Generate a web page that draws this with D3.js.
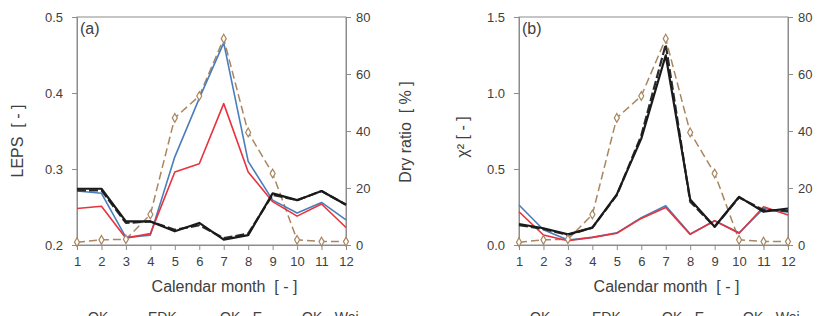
<!DOCTYPE html>
<html>
<head>
<meta charset="utf-8">
<script src="https://cdn.jsdelivr.net/npm/d3@7"></script>
<style>
  body { margin: 0; background: #fff; }
  svg text { font-family: "Liberation Sans", Arial, sans-serif; fill: #404040; white-space: pre; }
</style>
</head>
<body>
<div id="chart"></div>
<script>
const months = [1, 2, 3, 4, 5, 6, 7, 8, 9, 10, 11, 12];
const dryRatio = [1, 1.8, 2, 10.7, 44.6, 52.3, 72.4, 39.5, 25.1, 1.8, 1.2, 1.2];

// panel (a) LEPS
const lepsOK = [0.271, 0.268, 0.210, 0.213, 0.316, 0.393, 0.466, 0.310, 0.259, 0.242, 0.256, 0.233];
const lepsEDK = [0.248, 0.251, 0.209, 0.215, 0.296, 0.307, 0.386, 0.296, 0.257, 0.238, 0.254, 0.223];
const lepsOKE = [0.272, 0.272, 0.229, 0.231, 0.220, 0.226, 0.209, 0.215, 0.266, 0.259, 0.271, 0.253];
const lepsOKWei = [0.274, 0.274, 0.231, 0.231, 0.218, 0.229, 0.207, 0.213, 0.268, 0.259, 0.271, 0.253];

// panel (b) chi square
const chiOK = [0.263, 0.100, 0.033, 0.050, 0.080, 0.180, 0.258, 0.072, 0.160, 0.080, 0.240, 0.215];
const chiEDK = [0.219, 0.066, 0.028, 0.050, 0.077, 0.175, 0.247, 0.070, 0.160, 0.077, 0.252, 0.197];
const chiOKE = [0.131, 0.105, 0.066, 0.114, 0.328, 0.720, 1.320, 0.285, 0.120, 0.313, 0.230, 0.225];
const chiOKWei = [0.138, 0.110, 0.070, 0.114, 0.333, 0.700, 1.248, 0.300, 0.120, 0.317, 0.219, 0.240];

const legendNames = ["OK", "EDK", "OK - E", "OK - Wei"];

const panels = [
    { tag: "(a)", left: 77, right: 346, yMax: 0.5, yMin: 0.2, yTicks: [0.2, 0.3, 0.4, 0.5], fmt: d3.format(".1f"),
      yLabel: "LEPS  [ - ]", yLabelX: 23, yLabelY: 141, rightLabel: true, series: [lepsOK, lepsEDK, lepsOKE, lepsOKWei],
      legendX: [88, 148, 220, 302] },
    { tag: "(b)", left: 519, right: 788, yMax: 1.5, yMin: 0, yTicks: [0, 0.5, 1.0, 1.5], fmt: d3.format(".1f"),
      yLabel: "χ² [ - ]", yLabelX: 468, yLabelY: 137, rightLabel: false, series: [chiOK, chiEDK, chiOKE, chiOKWei],
      legendX: [530, 592, 662, 743] }
];

const plotTop = 17, plotBottom = 245;
const axisColor = "#8c8c8c";
const styles = [
    { color: "#4a7ebb", width: 1.6, dash: null },
    { color: "#e8323c", width: 1.6, dash: null },
    { color: "#2a2a2a", width: 2.2, dash: "9,3" },
    { color: "#1a1a1a", width: 2.2, dash: null }
];
const dryColor = "#a88660";

const svg = d3.select("#chart").append("svg")
    .attr("width", 835)
    .attr("height", 316);

panels.forEach(p => {
    const x = d3.scaleLinear().domain([1, 12]).range([p.left, p.right]);
    const y = d3.scaleLinear().domain([p.yMin, p.yMax]).range([plotBottom, plotTop]);
    const y2 = d3.scaleLinear().domain([0, 80]).range([plotBottom, plotTop]);
    const g = svg.append("g");

    // box
    g.append("rect")
        .attr("x", p.left).attr("y", plotTop)
        .attr("width", p.right - p.left).attr("height", plotBottom - plotTop)
        .attr("fill", "none").attr("stroke", axisColor).attr("stroke-width", 1);

    const leftAxis = g.append("g")
        .attr("transform", `translate(${p.left},0)`)
        .call(d3.axisLeft(y).tickValues(p.yTicks).tickFormat(p.fmt).tickSizeOuter(0).tickSize(5).tickPadding(9));
    const rightAxis = g.append("g")
        .attr("transform", `translate(${p.right},0)`)
        .call(d3.axisRight(y2).tickValues([0, 20, 40, 60, 80]).tickSizeOuter(0).tickSize(5).tickPadding(5));
    const bottomAxis = g.append("g")
        .attr("transform", `translate(0,${plotBottom})`)
        .call(d3.axisBottom(x).tickValues(months).tickFormat(d3.format("d")).tickSizeOuter(0).tickSize(5).tickPadding(7));

    [leftAxis, rightAxis, bottomAxis].forEach(a => {
        a.select(".domain").attr("stroke", axisColor);
        a.selectAll(".tick line").attr("stroke", axisColor);
        a.selectAll(".tick text").attr("font-size", 13).attr("fill", "#404040")
            .attr("font-family", "Liberation Sans, Arial, sans-serif");
    });

    g.append("text")
        .attr("x", p.left + 3).attr("y", 34)
        .attr("font-size", 16)
        .attr("fill", "#1a1a1a")
        .text(p.tag);

    g.append("text")
        .attr("x", (p.left + p.right) / 2 + 13).attr("y", 292)
        .attr("text-anchor", "middle").attr("font-size", 16)
        .text("Calendar month  [ - ]");

    g.append("text")
        .attr("transform", `translate(${p.yLabelX},${p.yLabelY}) rotate(-90)`)
        .attr("text-anchor", "middle").attr("font-size", 16)
        .text(p.yLabel);

    if (p.rightLabel) {
        g.append("text")
            .attr("transform", `translate(411,132) rotate(-90)`)
            .attr("text-anchor", "middle").attr("font-size", 16)
            .text("Dry ratio  [ % ]");
    }

    // dry ratio line
    const dryLine = d3.line().x((d, i) => x(months[i])).y(d => y2(d));
    g.append("path")
        .datum(dryRatio)
        .attr("fill", "none").attr("stroke", dryColor).attr("stroke-width", 1.5)
        .attr("stroke-dasharray", "8,4")
        .attr("d", dryLine);

    const line = d3.line().x((d, i) => x(months[i])).y(d => y(d));
    p.series.forEach((s, k) => {
        g.append("path")
            .datum(s)
            .attr("fill", "none")
            .attr("stroke", styles[k].color)
            .attr("stroke-width", styles[k].width)
            .attr("stroke-dasharray", styles[k].dash)
            .attr("stroke-linejoin", "round")
            .attr("d", line);
    });

    g.selectAll(".dry")
        .data(dryRatio)
        .join("path")
        .attr("class", "dry")
        .attr("transform", (d, i) => `translate(${x(months[i])},${y2(d)})`)
        .attr("d", d3.symbol(d3.symbolDiamond, 22))
        .attr("fill", "#fff").attr("stroke", dryColor).attr("stroke-width", 1.2);

    // legend, mostly cut off by the picture edge as in the source figure
    g.selectAll(".leg")
        .data(legendNames)
        .join("text")
        .attr("class", "leg")
        .attr("x", (d, i) => p.legendX[i]).attr("y", 322)
        .attr("font-size", 14)
        .text(d => d);
});
</script>
</body>
</html>
